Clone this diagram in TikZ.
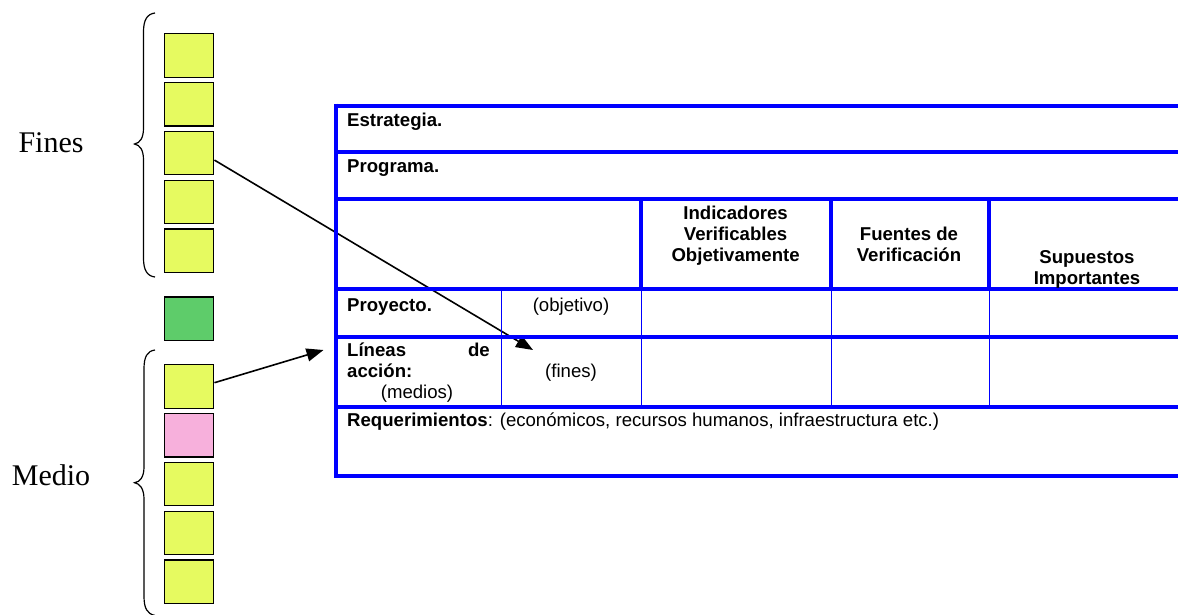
\documentclass[tikz,border=0pt]{standalone}
\usepackage{fontspec}
\setmainfont{Liberation Serif}
\newfontfamily\tablefont{Liberation Sans}
\usetikzlibrary{arrows.meta}

\definecolor{cyellow}{RGB}{230,250,96}
\definecolor{cgreen}{RGB}{94,204,106}
\definecolor{cpink}{RGB}{247,176,220}
\definecolor{tblue}{RGB}{0,0,255}

\begin{document}
\begin{tikzpicture}[x=1pt,y=-1pt,
  box/.style={draw=black, line width=1.3pt, minimum width=49pt, minimum height=43.4pt, inner sep=0pt},
  yel/.style={box, fill=cyellow},
  grn/.style={box, fill=cgreen},
  pnk/.style={box, fill=cpink},
  bracepath/.style={draw=black, line width=1.2pt},
  heavyrule/.style={draw=tblue, line width=4pt},
  lightrule/.style={draw=tblue, line width=1.5pt},
  lbl/.style={font=\fontsize{30}{36}\selectfont, inner sep=0pt},
  cell/.style={font=\tablefont\fontsize{18.6}{22}\selectfont, inner sep=0pt},
  bcell/.style={cell, font=\tablefont\bfseries\fontsize{18.6}{22}\selectfont},
  arr/.style={draw=black, line width=1.6pt, -{Triangle[length=17pt,width=13pt]}}
]
\useasboundingbox (0,0) rectangle (1178,614);

% column of squares
\node[yel] (f1) at (189.3,55.5) {};
\node[yel] (f2) at (189.3,104.3) {};
\node[yel] (f3) at (189.3,153.1) {};
\node[yel] (f4) at (189.3,201.9) {};
\node[yel] (f5) at (189.3,250.7) {};
\node[grn] (g1) at (189.3,318.7) {};
\node[yel] (m1) at (189.3,386.5) {};
\node[pnk] (m2) at (189.3,435.3) {};
\node[yel] (m3) at (189.3,484.1) {};
\node[yel] (m4) at (189.3,532.9) {};
\node[yel] (m5) at (189.3,581.7) {};

% braces
\draw[bracepath] (155,13) .. controls (147,14) and (143.5,20) .. (143.5,32) -- (143.5,128)
  .. controls (143.5,138) and (140,143) .. (134.5,144)
  .. controls (140,145) and (143.5,150) .. (143.5,160) -- (143.5,258)
  .. controls (143.5,270) and (147,276) .. (155,277);
\draw[bracepath] (155,350) .. controls (147,351) and (144,357) .. (144,369) -- (144,467)
  .. controls (144,477) and (140,482) .. (134.5,482.7)
  .. controls (140,483.5) and (144,489) .. (144,499) -- (144,596)
  .. controls (144,608) and (147,614) .. (155,615.4);

\node[lbl, anchor=base west] (fines) at (18.3,152.2) {Fines};
\node[lbl, anchor=base west] (medio) at (11.7,485) {Medio};

% arrows
\coordinate (tip1) at (533,350);
\coordinate (tip2) at (323.5,350);
\draw[arr] ([yshift=-7pt]f3.east) -- (tip1);
\draw[arr] ([yshift=3.8pt]m1.east) -- (tip2);

% table rules
\foreach \yy in {105.7,152.3,199,289,337,406.5,476}
  \draw[heavyrule] (334,\yy) -- (1178,\yy);
\draw[heavyrule] (336,103.7) -- (336,478);
\foreach \xx in {640.8,831.3,988.8}
  \draw[heavyrule] (\xx,199) -- (\xx,289);
\foreach \xx in {501.7,641.4,831.7,989.4}
  \draw[lightrule] (\xx,289) -- (\xx,406.5);

% table texts
\node[bcell, anchor=base west] (estr) at (347,126) {Estrategia.};
\node[bcell, anchor=base west] (prog) at (347,172.7) {Programa.};
\node[bcell, anchor=base] (ind1) at (735.6,219.5) {Indicadores};
\node[bcell, anchor=base] (ind2) at (735.6,240.5) {Verificables};
\node[bcell, anchor=base] (ind3) at (735.6,261.5) {Objetivamente};
\node[bcell, anchor=base] (fue1) at (909,240.5) {Fuentes de};
\node[bcell, anchor=base] (fue2) at (909,261.5) {Verificación};
\node[bcell, anchor=base] (sup1) at (1087,263) {Supuestos};
\node[bcell, anchor=base] (sup2) at (1087,284) {Importantes};
\node[bcell, anchor=base west] (proy) at (347,311) {Proyecto.};
\node[cell, anchor=base] (obj) at (571,311) {(objetivo)};
\node[bcell, anchor=base west] (lin1) at (347,356) {Líneas};
\node[bcell, anchor=base east] (lin2) at (490,356) {de};
\node[bcell, anchor=base west] (lin3) at (347,377) {acción:};
\node[cell, anchor=base] (lin4) at (417,398) {(medios)};
\node[cell, anchor=base] (fin) at (571,377) {(fines)};
\node[cell, anchor=base west] (req) at (347,426) {\textbf{Requerimientos}: (económicos, recursos humanos, infraestructura etc.)};
\end{tikzpicture}
\end{document}
